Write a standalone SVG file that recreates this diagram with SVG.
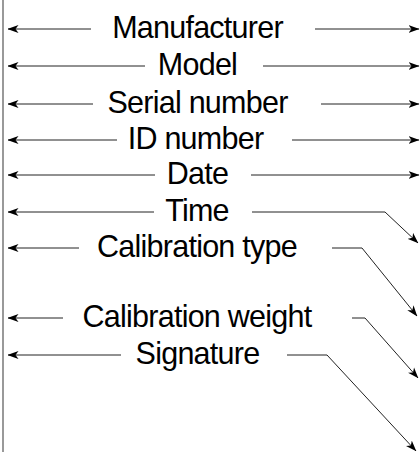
<svg xmlns="http://www.w3.org/2000/svg" width="420" height="452" viewBox="0 0 420 452">
<style>
.t{font-family:"Liberation Sans",Arial,sans-serif;font-size:30.5px;letter-spacing:-0.75px;fill:#000;text-anchor:middle}
.c{fill:none;stroke:#222;stroke-width:1}
</style>
<defs>
<marker id="ah" viewBox="0 0 11 9" refX="10.5" refY="4.5" markerWidth="11" markerHeight="9" markerUnits="userSpaceOnUse" orient="auto-start-reverse">
<path d="M0,0.5 L11,4.5 L0,8.5 L3,4.5 Z" fill="#000"/>
</marker>
</defs>
<rect width="420" height="452" fill="#fff"/>
<line x1="3" y1="0" x2="3" y2="452" stroke="#777" stroke-width="1.5"/>
<g id="connectors">
<path class="c" d="M91,29 H8" marker-end="url(#ah)"/>
<path class="c" d="M315,29 H419" marker-end="url(#ah)"/>
<path class="c" d="M145,66 H8" marker-end="url(#ah)"/>
<path class="c" d="M263,66 H419" marker-end="url(#ah)"/>
<path class="c" d="M93,104 H8" marker-end="url(#ah)"/>
<path class="c" d="M321,104 H419" marker-end="url(#ah)"/>
<path class="c" d="M117,140 H8" marker-end="url(#ah)"/>
<path class="c" d="M292,140 H419" marker-end="url(#ah)"/>
<path class="c" d="M155,175 H8" marker-end="url(#ah)"/>
<path class="c" d="M251,175 H419" marker-end="url(#ah)"/>
<path class="c" d="M154,212 H8" marker-end="url(#ah)"/>
<path class="c" d="M252,212 H385 L418,243" marker-end="url(#ah)"/>
<path class="c" d="M79,248 H8" marker-end="url(#ah)"/>
<path class="c" d="M332,248 H362 L417,316" marker-end="url(#ah)"/>
<path class="c" d="M63,318 H8" marker-end="url(#ah)"/>
<path class="c" d="M352,318 H365 L418,378" marker-end="url(#ah)"/>
<path class="c" d="M121,355 H8" marker-end="url(#ah)"/>
<path class="c" d="M287,355 H327 L416,451" marker-end="url(#ah)"/>
</g>
<g id="n-manufacturer"><text class="t" x="197.5" y="38">Manufacturer</text></g>
<g id="n-model"><text class="t" x="197.5" y="75">Model</text></g>
<g id="n-serial"><text class="t" x="197.5" y="113">Serial number</text></g>
<g id="n-id"><text class="t" x="195.5" y="149">ID number</text></g>
<g id="n-date"><text class="t" x="197.5" y="184">Date</text></g>
<g id="n-time"><text class="t" x="197" y="221">Time</text></g>
<g id="n-caltype"><text class="t" x="197" y="257">Calibration type</text></g>
<g id="n-calweight"><text class="t" x="197" y="327">Calibration weight</text></g>
<g id="n-signature"><text class="t" x="197.5" y="364">Signature</text></g>
</svg>
